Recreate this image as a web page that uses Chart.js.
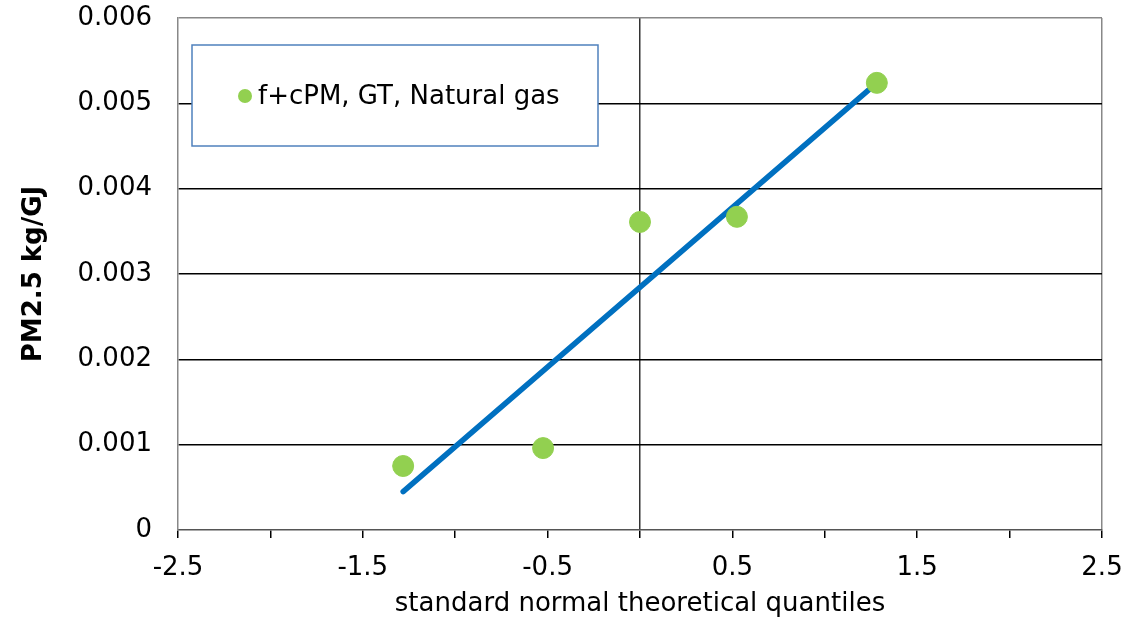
<!DOCTYPE html>
<html>
<head>
<meta charset="utf-8">
<script src="https://cdn.jsdelivr.net/npm/chart.js@4/dist/chart.umd.min.js"></script>
<style>
  body { margin: 0; background: #fff; }
  canvas { display: block; }
</style>
</head>
<body>
<canvas id="grafico" width="1126" height="623"></canvas>
<script>
// Datos
const etiquetaSerie = "f+cPM, GT, Natural gas";
const cuantiles = [-1.2816, -0.5244, 0, 0.5244, 1.2816];
const valoresPM = [0.00075, 0.00096, 0.00361, 0.00367, 0.00524];
// Recta de ajuste (extremos)
const rectaX = [-1.2816, 1.2816];
const rectaY = [0.00045, 0.00524];

const verde = "#92d050";
const azul = "#0070c0";
const fuente = "'DejaVu Sans', Verdana, sans-serif";

// Leyenda dentro del área del gráfico, con marco azul
const leyendaCaja = {
  id: "leyendaCaja",
  afterDraw(chart) {
    const ctx = chart.ctx;
    const ds = chart.data.datasets[0];
    ctx.save();
    ctx.fillStyle = "#fff";
    ctx.fillRect(192, 45, 406, 101);
    ctx.strokeStyle = "#4f81bd";
    ctx.lineWidth = 1.5;
    ctx.strokeRect(192, 45, 406, 101);
    ctx.fillStyle = ds.backgroundColor;
    ctx.beginPath();
    ctx.arc(245, 96, 7, 0, Math.PI * 2);
    ctx.fill();
    ctx.fillStyle = "#000";
    ctx.font = "26px " + fuente;
    ctx.textBaseline = "middle";
    ctx.fillText(ds.label, 258, 97);
    ctx.restore();
  }
};

new Chart(document.getElementById("grafico"), {
  type: "scatter",
  data: {
    datasets: [{
      label: etiquetaSerie,
      data: cuantiles.map((x, i) => ({ x: x, y: valoresPM[i] })),
      backgroundColor: verde,
      borderColor: verde,
      pointRadius: 10.5,
      borderWidth: 1,
      order: 0
    }, {
      type: "line",
      label: "ajuste",
      data: rectaX.map((x, i) => ({ x: x, y: rectaY[i] })),
      borderColor: azul,
      borderWidth: 5.5,
      borderCapStyle: "round",
      pointRadius: 0,
      fill: false,
      order: 1
    }]
  },
  plugins: [leyendaCaja],
  options: {
    responsive: false,
    animation: false,
    layout: { padding: { top: 18, right: 24, left: 0, bottom: 0 } },
    plugins: {
      legend: { display: false },
      tooltip: { enabled: false }
    },
    scales: {
      x: {
        type: "linear",
        min: -2.5,
        max: 2.5,
        afterFit(scale) {
          scale.height = 93;
          scale.paddingLeft = 0;
          scale.paddingRight = 0;
        },
        ticks: {
          stepSize: 0.5,
          autoSkip: false,
          maxRotation: 0,
          padding: 15,
          color: "#000",
          font: { family: fuente, size: 26 },
          callback: v => (Math.round(Math.abs(v) * 2) % 2 === 1 ? String(v) : "")
        },
        grid: {
          color: c => (c.tick && c.tick.value === 0 ? "#333" : (c.tick && c.tick.value === 2.5 ? "#888" : "transparent")),
          tickColor: "#000",
          tickLength: 8,
          lineWidth: 1.5
        },
        border: { color: "#555", width: 1.5 },
        title: {
          display: true,
          text: "standard normal theoretical quantiles",
          color: "#000",
          font: { family: fuente, size: 26 },
          padding: { top: 0, bottom: 3 }
        }
      },
      y: {
        min: 0,
        max: 0.006,
        afterFit(scale) {
          scale.width = 178;
          scale.paddingTop = 0;
          scale.paddingBottom = 0;
        },
        ticks: {
          stepSize: 0.001,
          padding: 26,
          color: "#000",
          font: { family: fuente, size: 26 },
          callback: v => (v === 0 ? "0" : v.toFixed(3))
        },
        grid: {
          drawTicks: false,
          color: c => (c.tick && c.tick.value >= 0.0059 ? "#888" : (c.tick && c.tick.value === 0 ? "transparent" : "#000")),
          lineWidth: 1.5
        },
        border: { color: "#888", width: 1.5 },
        title: {
          display: true,
          text: "PM2.5 kg/GJ",
          color: "#000",
          font: { family: fuente, size: 26, weight: "bold" },
          padding: { top: 19, bottom: 0 }
        }
      }
    }
  }
});
</script>
</body>
</html>
